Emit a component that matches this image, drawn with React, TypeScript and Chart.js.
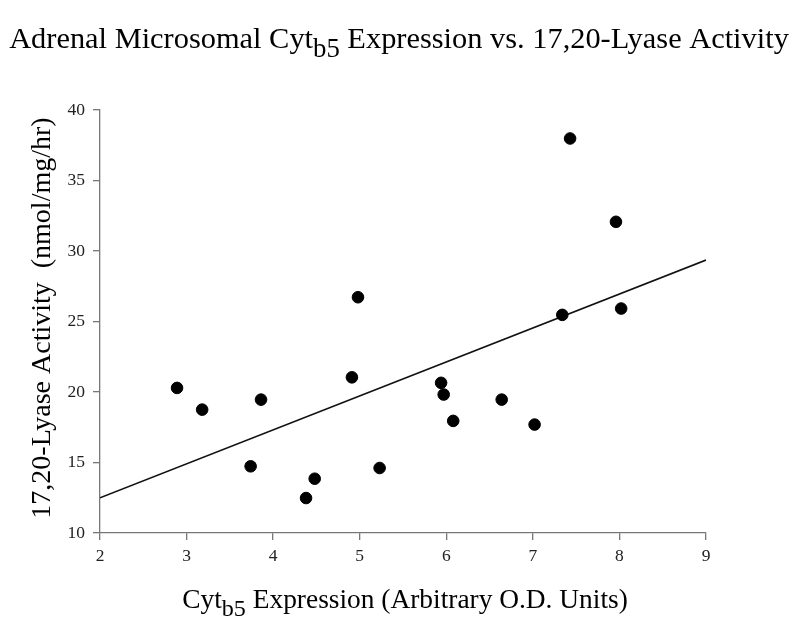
import React, { useEffect, useRef } from 'react';
import { Chart, registerables } from 'chart.js';

Chart.register(...registerables);

const cytb5Expression = [2.89, 3.18, 3.74, 3.86, 4.38, 4.48, 4.91, 4.98, 5.23, 5.94, 5.97, 6.08, 6.64, 7.02, 7.34, 7.43, 7.96, 8.02];
const lyaseActivity = [20.29, 18.75, 14.73, 19.46, 12.48, 13.85, 21.04, 26.72, 14.61, 20.65, 19.82, 17.95, 19.46, 17.69, 25.47, 37.98, 32.07, 25.92];
const trendX = [2, 9];
const trendY = [12.5, 29.36];
const xTicks = [2, 3, 4, 5, 6, 7, 8, 9];
const yTicks = [10, 15, 20, 25, 30, 35, 40];

const titleSegs: [string, boolean][] = [
  ['Adrenal Microsomal Cyt', false],
  ['b5', true],
  [' Expression vs. 17,20-Lyase Activity', false],
];
const xTitleSegs: [string, boolean][] = [
  ['Cyt', false],
  ['b5', true],
  [' Expression (Arbitrary O.D. Units)', false],
];
const yTitle = '17,20-Lyase Activity  (nmol/mg/hr)';

const FONT = '"Liberation Serif", "Times New Roman", serif';

function drawRich(ctx: CanvasRenderingContext2D, segs: [string, boolean][], cx: number, baseline: number, size: number) {
  const subSize = size * 0.88;
  let total = 0;
  const widths = segs.map(([t, sub]) => {
    ctx.font = `${sub ? subSize : size}px ${FONT}`;
    const w = ctx.measureText(t).width;
    total += w;
    return w;
  });
  let x = cx - total / 2;
  ctx.textAlign = 'left';
  ctx.textBaseline = 'alphabetic';
  segs.forEach(([t, sub], i) => {
    ctx.font = `${sub ? subSize : size}px ${FONT}`;
    ctx.fillText(t, x, baseline + (sub ? size * 0.3 : 0));
    x += widths[i];
  });
}

const titlesPlugin = {
  id: 'titlesPlugin',
  afterDraw(chart: any) {
    const ctx: CanvasRenderingContext2D = chart.ctx;
    ctx.save();
    ctx.fillStyle = '#000';
    drawRich(ctx, titleSegs, 399, 48, 30.4);
    drawRich(ctx, xTitleSegs, 405, 608, 27.4);
    ctx.translate(43, 318);
    ctx.rotate(-Math.PI / 2);
    ctx.font = `28px ${FONT}`;
    ctx.textAlign = 'center';
    ctx.textBaseline = 'middle';
    ctx.fillText(yTitle, 0, 0);
    ctx.restore();
  },
};

export default function App() {
  const ref = useRef<HTMLCanvasElement>(null);
  useEffect(() => {
    if (!ref.current) return;
    const chart = new Chart(ref.current, {
      type: 'scatter',
      data: {
        datasets: [
          {
            label: 'Data',
            data: cytb5Expression.map((x, i) => ({ x, y: lyaseActivity[i] })),
            backgroundColor: '#000',
            borderColor: '#000',
            pointRadius: 5.8,
            pointHoverRadius: 5.8,
          },
          {
            label: 'Trend',
            data: trendX.map((x, i) => ({ x, y: trendY[i] })),
            showLine: true,
            borderColor: '#111',
            borderWidth: 1.6,
            pointRadius: 0,
            fill: false,
          } as any,
        ],
      },
      options: {
        animation: false,
        responsive: false,
        maintainAspectRatio: false,
        layout: { padding: { left: 0, right: 94, top: 110, bottom: 0 } },
        plugins: {
          legend: { display: false },
          title: { display: false },
          tooltip: { enabled: false },
        },
        scales: {
          x: {
            type: 'linear',
            min: 2,
            max: 9,
            afterFit: (s: any) => { s.height = 89; },
            afterBuildTicks: (s: any) => { s.ticks = xTicks.map((v) => ({ value: v })); },
            grid: { display: true, drawOnChartArea: false, color: '#777', tickLength: 7, lineWidth: 1.3 },
            border: { display: true, color: '#777', width: 1.3 },
            ticks: { color: '#222', font: { family: FONT, size: 17.5 }, padding: 6 },
          },
          y: {
            type: 'linear',
            min: 10,
            max: 40,
            afterFit: (s: any) => { s.width = 100; },
            afterBuildTicks: (s: any) => { s.ticks = yTicks.map((v) => ({ value: v })); },
            grid: { display: true, drawOnChartArea: false, color: '#777', tickLength: 7, lineWidth: 1.3 },
            border: { display: true, color: '#777', width: 1.3 },
            ticks: { color: '#222', font: { family: FONT, size: 17.5 }, padding: 8 },
          },
        },
      },
      plugins: [titlesPlugin],
    });
    return () => chart.destroy();
  }, []);
  return (
    <div style={{ position: 'absolute', left: 0, top: 0, width: 800, height: 622, background: '#fff' }}>
      <canvas ref={ref} width={800} height={622} style={{ width: 800, height: 622 }} />
    </div>
  );
}
